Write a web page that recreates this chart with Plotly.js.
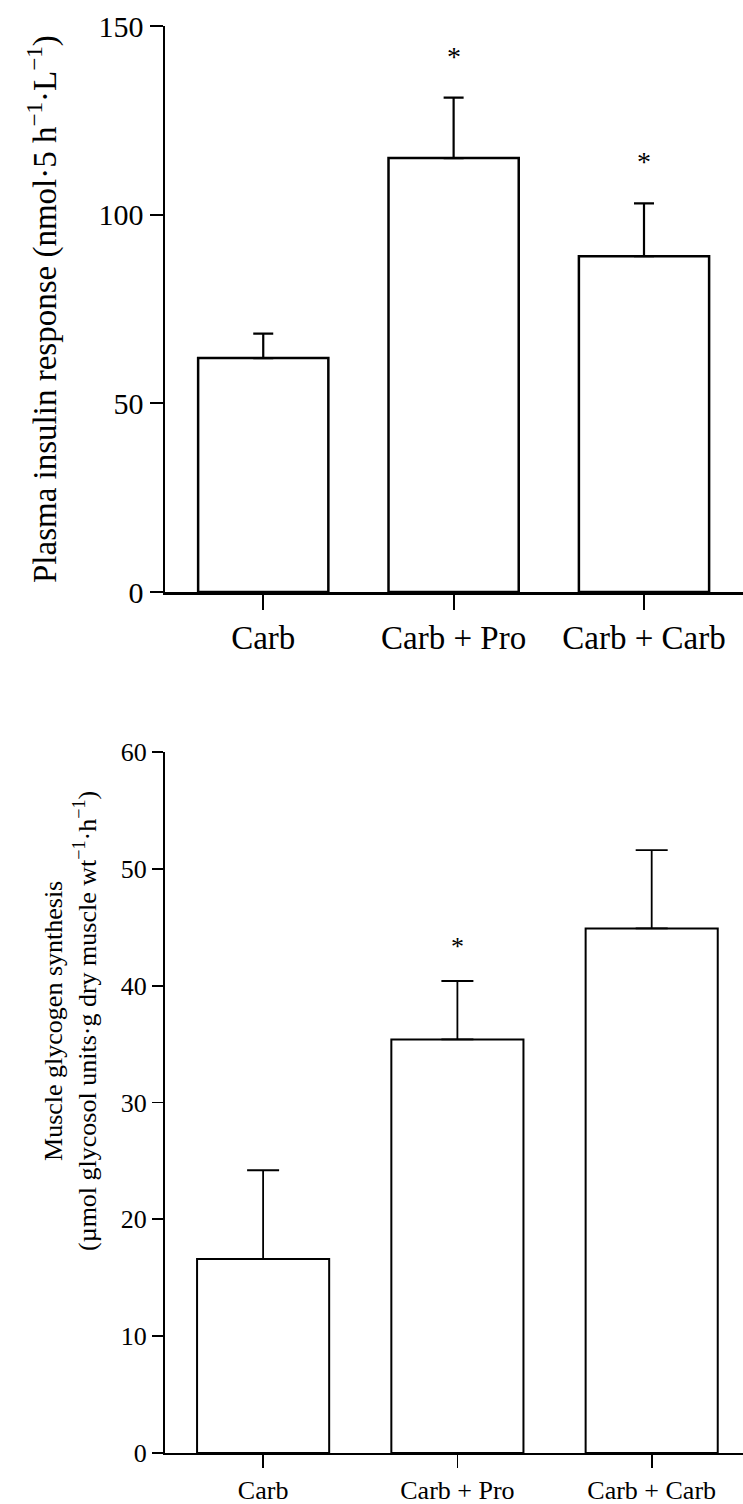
<!DOCTYPE html>
<html>
<head>
<meta charset="utf-8">
<script src="https://cdn.plot.ly/plotly-3.0.1.min.js"></script>
<style>
  html, body { margin: 0; padding: 0; background: #ffffff; }
  #chart { width: 743px; height: 1504px; }
</style>
</head>
<body>
<div id="chart"></div>
<script>
// ---- data ----
const categories = ['Carb', 'Carb + Pro', 'Carb + Carb'];

// Panel A: plasma insulin response (nmol·5 h-1·L-1)
const insulinMean = [62, 115, 89];
const insulinSE   = [6.5, 16, 14];
const insulinSig  = ['', '*', '*'];

// Panel B: muscle glycogen synthesis (µmol glycosyl units·g dry muscle wt-1·h-1)
const glycogenMean = [16.6, 35.4, 44.9];
const glycogenSE   = [7.6, 5.0, 6.7];
const glycogenSig  = ['', '*', ''];

const insulinTicks  = [0, 50, 100, 150];
const glycogenTicks = [0, 10, 20, 30, 40, 50, 60];

// ---- layout helpers ----
const W = 743, H = 1504;
const px = v => v / W;
const py = v => (H - v) / H;

const serif = 'Liberation Serif, Times New Roman, serif';

const traces = [
  {
    type: 'bar', x: categories, y: insulinMean, xaxis: 'x', yaxis: 'y',
    width: 0.684,
    marker: { color: '#ffffff', line: { color: '#000000', width: 2.5 } },
    error_y: { type: 'data', symmetric: false, array: insulinSE,
               arrayminus: insulinSE.map(() => 0),
               color: '#000000', thickness: 2.2, width: 10 },
    cliponaxis: false, hoverinfo: 'skip'
  },
  {
    type: 'bar', x: categories, y: glycogenMean, xaxis: 'x2', yaxis: 'y2',
    width: 0.68,
    marker: { color: '#ffffff', line: { color: '#000000', width: 2 } },
    error_y: { type: 'data', symmetric: false, array: glycogenSE,
               arrayminus: glycogenSE.map(() => 0),
               color: '#000000', thickness: 1.8, width: 16 },
    cliponaxis: false, hoverinfo: 'skip'
  }
];

const annotations = [];
categories.forEach((c, i) => {
  if (insulinSig[i]) annotations.push({
    xref: 'x', yref: 'y', x: c, y: insulinMean[i] + insulinSE[i],
    text: insulinSig[i], showarrow: false, yanchor: 'bottom', yshift: 24,
    font: { family: serif, size: 28, color: '#000' }
  });
  if (glycogenSig[i]) annotations.push({
    xref: 'x2', yref: 'y2', x: c, y: glycogenMean[i] + glycogenSE[i],
    text: glycogenSig[i], showarrow: false, yanchor: 'bottom', yshift: 18,
    font: { family: serif, size: 26, color: '#000' }
  });
});

annotations.push({
  xref: 'paper', yref: 'paper', x: px(43), y: py(309),
  xanchor: 'center', yanchor: 'middle', textangle: -90, showarrow: false,
  text: 'Plasma insulin response (nmol·5 h<sup>−1</sup>·L<sup>−1</sup>)',
  font: { family: serif, size: 33, color: '#000' }
});
annotations.push({
  xref: 'paper', yref: 'paper', x: px(70), y: py(1021),
  xanchor: 'center', yanchor: 'middle', textangle: -90, showarrow: false,
  text: 'Muscle glycogen synthesis<br>(µmol glycosol units·g dry muscle wt<sup>−1</sup>·h<sup>−1</sup>)',
  font: { family: serif, size: 26, color: '#000' }
});

const axisCommon = {
  showline: true, linecolor: '#000', showgrid: false, zeroline: false,
  ticks: 'outside', tickcolor: '#000', fixedrange: true
};

const layout = {
  width: W, height: H, autosize: false,
  margin: { l: 0, r: 0, t: 0, b: 0 },
  paper_bgcolor: '#ffffff', plot_bgcolor: '#ffffff',
  showlegend: false,
  font: { family: serif, color: '#000' },
  xaxis: Object.assign({}, axisCommon, {
    domain: [px(165), 1], anchor: 'y', type: 'category',
    range: [-0.516, 2.52], linewidth: 2.5, ticklen: 15, tickwidth: 2,
    tickfont: { family: serif, size: 33, color: '#000' }
  }),
  yaxis: Object.assign({}, axisCommon, {
    domain: [py(592), py(26)], anchor: 'x', range: [0, 150],
    tickvals: insulinTicks, linewidth: 2.5, ticklen: 13, tickwidth: 2,
    tickfont: { family: serif, size: 30, color: '#000' }
  }),
  xaxis2: Object.assign({}, axisCommon, {
    domain: [px(165), 1], anchor: 'y2', type: 'category',
    range: [-0.505, 2.47], linewidth: 2, ticklen: 13, tickwidth: 1.8,
    tickfont: { family: serif, size: 26, color: '#000' }
  }),
  yaxis2: Object.assign({}, axisCommon, {
    domain: [py(1453), py(752)], anchor: 'x2', range: [0, 60],
    tickvals: glycogenTicks, linewidth: 2, ticklen: 11, tickwidth: 1.8,
    tickfont: { family: serif, size: 26, color: '#000' }
  }),
  annotations: annotations
};

Plotly.newPlot('chart', traces, layout, { displayModeBar: false, staticPlot: true });
</script>
</body>
</html>
